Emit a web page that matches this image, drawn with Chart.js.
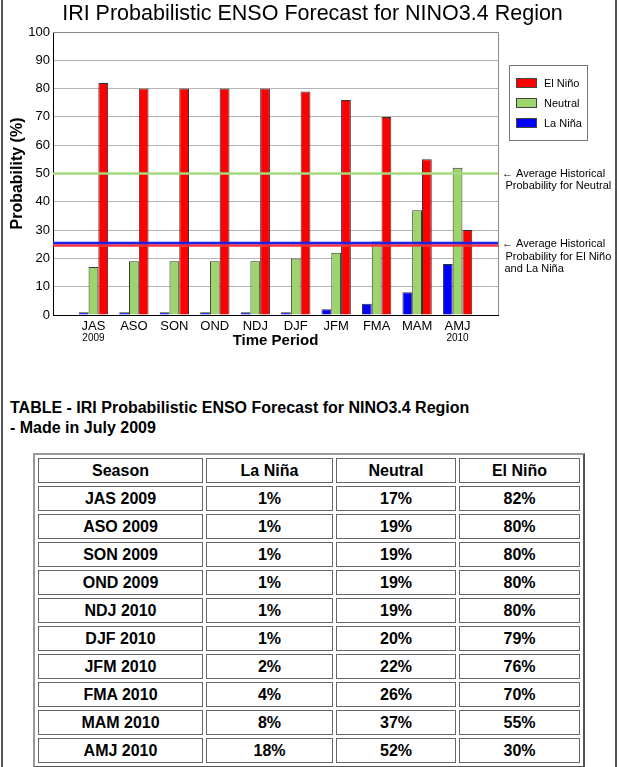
<!DOCTYPE html>
<html>
<head>
<meta charset="utf-8">
<script src="https://cdn.jsdelivr.net/npm/chart.js@4.4.1/dist/chart.umd.min.js"></script>
<style>
html,body{margin:0;padding:0;background:#fff;}
body{width:619px;height:767px;position:relative;overflow:hidden;font-family:"Liberation Sans",Arial,sans-serif;color:#000;}
#wrap{position:absolute;left:0;top:0;width:619px;height:350px;}
.vline{position:absolute;top:0;width:2px;height:767px;background:#555;}
#ttl{position:absolute;left:10px;top:398px;font:bold 16px/20px "Liberation Sans",Arial,sans-serif;white-space:nowrap;}
#tbl{position:absolute;left:33px;top:453px;border-collapse:separate;border-spacing:3px;border:2px solid;border-color:#999 #555 #555 #999;table-layout:fixed;}
#tbl td,#tbl th{box-sizing:border-box;border:1px solid #666;height:25px;padding:0;text-align:center;vertical-align:middle;font:bold 16px "Liberation Sans",Arial,sans-serif;}
</style>
</head>
<body>
<div class="vline" style="left:1px"></div>
<div class="vline" style="left:615px"></div>
<div id="wrap"><canvas id="c" width="619" height="350" style="width:619px;height:350px"></canvas></div>
<div id="ttl">TABLE - IRI Probabilistic ENSO Forecast for NINO3.4 Region<br>- Made in July 2009</div>
<table id="tbl"><thead></thead><tbody></tbody></table>
<script>
// ---- data ----
const seasons = ['JAS','ASO','SON','OND','NDJ','DJF','JFM','FMA','MAM','AMJ'];
const years = ['2009','','','','','','','','','2010'];
const tableSeasons = ['JAS 2009','ASO 2009','SON 2009','OND 2009','NDJ 2010','DJF 2010','JFM 2010','FMA 2010','MAM 2010','AMJ 2010'];
const laNina  = [1,1,1,1,1,1,2,4,8,18];
const neutral = [17,19,19,19,19,20,22,26,37,52];
const elNino  = [82,80,80,80,80,79,76,70,55,30];
const histNeutral = 50;
const histElNinoLaNina = 25;
const tableHeaders = ['Season','La Niña','Neutral','El Niño'];

const FONT = '"Liberation Sans", Arial, sans-serif';
const colRed = '#FF0000', colGreen = '#9DD46B', colBlue = '#0000FF';

// ---- table ----
(function(){
  const widths = [165,127,120,121];
  const thead = document.querySelector('#tbl thead');
  const tr = document.createElement('tr');
  tableHeaders.forEach((h,i)=>{const th=document.createElement('td');th.textContent=h;th.style.width=widths[i]+'px';tr.appendChild(th);});
  thead.appendChild(tr);
  const tbody = document.querySelector('#tbl tbody');
  tableSeasons.forEach((s,i)=>{
    const r=document.createElement('tr');
    [s, laNina[i]+'%', neutral[i]+'%', elNino[i]+'%'].forEach(v=>{const td=document.createElement('td');td.textContent=v;r.appendChild(td);});
    tbody.appendChild(r);
  });
})();

// ---- chart ----
Chart.defaults.font.family = FONT;
Chart.defaults.color = '#000';

const toPts = arr => arr.map((v,i)=>({x:i+1, y:v}));

const extras = {
  id:'extras',
  afterDatasetsDraw(chart){
    const ctx = chart.ctx, a = chart.chartArea, y = chart.scales.y;
    ctx.save();
    ctx.lineWidth = 2.6;
    const line = (v, off, col) => {
      const py = y.getPixelForValue(v) + off;
      ctx.strokeStyle = col;
      ctx.beginPath(); ctx.moveTo(a.left, py); ctx.lineTo(a.right, py); ctx.stroke();
    };
    line(histNeutral, 0, '#A5D97E');
    line(histElNinoLaNina, 1.3, '#FF3535');
    line(histElNinoLaNina, -1.3, '#2020E8');
    ctx.restore();
  },
  afterDraw(chart){
    const ctx = chart.ctx, a = chart.chartArea, x = chart.scales.x, y = chart.scales.y;
    ctx.save();
    // frame top/right
    ctx.strokeStyle = '#888'; ctx.lineWidth = 1;
    ctx.beginPath();
    ctx.moveTo(a.left, Math.round(a.top)+0.5); ctx.lineTo(Math.round(a.right)+0.5, Math.round(a.top)+0.5);
    ctx.lineTo(Math.round(a.right)+0.5, a.bottom);
    ctx.stroke();
    // title
    ctx.fillStyle = '#000';
    ctx.font = '21.5px ' + FONT;
    ctx.textAlign = 'center'; ctx.textBaseline = 'alphabetic';
    ctx.fillText('IRI Probabilistic ENSO Forecast for NINO3.4 Region', 312.5, 19.5);
    // year sublabels
    ctx.font = '10px ' + FONT;
    ctx.textBaseline = 'middle';
    years.forEach((yr,i)=>{ if(yr) ctx.fillText(yr, x.getPixelForValue(i+1), 338.5); });
    // legend
    ctx.strokeStyle = '#777'; ctx.lineWidth = 1;
    ctx.strokeRect(509.5, 65.5, 78, 75);
    const items = chart.data.datasets.slice().reverse();
    ctx.font = '11px ' + FONT; ctx.textAlign = 'left';
    items.forEach((ds,i)=>{
      const top = 78 + i*20;
      ctx.fillStyle = ds.backgroundColor;
      ctx.fillRect(516, top, 21, 10);
      ctx.strokeStyle = '#444';
      ctx.strokeRect(516.5, top+0.5, 20, 9);
      ctx.fillStyle = '#000';
      ctx.fillText(ds.label, 544, top + 5.5);
    });
    // annotations
    const yN = y.getPixelForValue(histNeutral);
    const yE = y.getPixelForValue(histElNinoLaNina);
    ctx.fillText('\u2190 Average Historical', 502, yN);
    ctx.fillText('Probability for Neutral', 505.5, yN + 12.7);
    ctx.fillText('\u2190 Average Historical', 502, yE);
    ctx.fillText('Probability for El Niño', 505.5, yE + 12.6);
    ctx.fillText('and La Niña', 504.5, yE + 25.2);
    ctx.restore();
  }
};

new Chart(document.getElementById('c'), {
  type: 'bar',
  data: {
    datasets: [
      {label:'La Niña', data: toPts(laNina), backgroundColor: colBlue},
      {label:'Neutral', data: toPts(neutral), backgroundColor: colGreen},
      {label:'El Niño', data: toPts(elNino), backgroundColor: colRed}
    ]
  },
  options: {
    responsive:false, animation:false, devicePixelRatio:1,
    layout:{padding:{top:32, right:121, left:0, bottom:0}},
    datasets:{bar:{categoryPercentage:0.725, barPercentage:1, borderWidth:1, borderColor:'#333'}},
    plugins:{legend:{display:false}, title:{display:false}, tooltip:{enabled:false}},
    scales:{
      x:{type:'linear', min:0, max:11, offset:false,
        grid:{display:false, drawTicks:false},
        border:{display:true, color:'#000', width:1},
        ticks:{stepSize:1, autoSkip:false, maxRotation:0, padding:3.5, font:{size:13}, color:'#000',
          callback:(v)=> seasons[v-1] ?? ''},
        title:{display:true, text:'Time Period', font:{size:15, weight:'bold'}, color:'#000', padding:{top:0,bottom:0}},
        afterFit:(s)=>{ s.height = 35; }
      },
      y:{min:0, max:100,
        grid:{color:'#b4b4b4', drawTicks:false},
        border:{display:true, color:'#000', width:1},
        ticks:{stepSize:10, padding:3, font:{size:13}, color:'#000'},
        title:{display:true, text:'Probability (%)', font:{size:16, weight:'bold'}, color:'#000', padding:{top:7.6,bottom:0}},
        afterFit:(s)=>{ s.width = 53; }
      }
    }
  },
  plugins:[extras]
});
</script>
</body>
</html>
